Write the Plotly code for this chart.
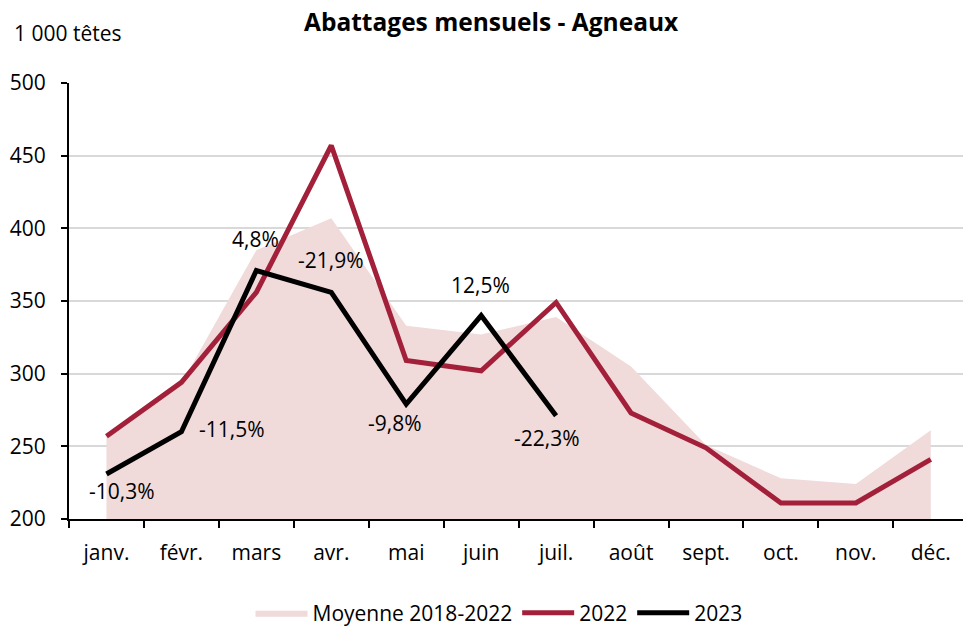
import plotly.graph_objects as go

months = ["janv.", "févr.", "mars", "avr.", "mai", "juin", "juil.", "août", "sept.", "oct.", "nov.", "déc."]
moyenne = [257, 293, 385, 407, 333, 327, 339, 305, 251, 228, 224, 261]
y2022 = [257, 294, 356, 457, 309, 302, 349, 273, 249, 211, 211, 241]
y2023 = [231, 260, 371, 356, 279, 340, 271]

labels = ["-10,3%", "-11,5%", "4,8%", "-21,9%", "-9,8%", "12,5%", "-22,3%"]
label_x = [0.21, 1.67, 1.99, 2.99, 3.85, 4.99, 5.88]
label_y = [219, 262, 393, 378, 266, 361, 256]

FONT = "Open Sans"
FS = 21
RED = "#A3203A"
FILL = "#F0DADA"

fig = go.Figure()
fig.add_trace(go.Scatter(x=months, y=moyenne, mode="lines", fill="tozeroy",
                         fillcolor=FILL, line=dict(width=0, color=FILL),
                         name="Moyenne 2018-2022"))
fig.add_trace(go.Scatter(x=months, y=y2022, mode="lines",
                         line=dict(color=RED, width=5), name="2022"))
fig.add_trace(go.Scatter(x=months[:len(y2023)], y=y2023, mode="lines",
                         line=dict(color="black", width=5), name="2023"))

for t, x, y in zip(labels, label_x, label_y):
    fig.add_annotation(x=x, y=y, text=t, showarrow=False, xref="x", yref="y",
                       font=dict(size=FS, color="black", family=FONT))

fig.add_annotation(x=-0.064, y=1.1147, xref="paper", yref="paper", text="1 000 têtes",
                   showarrow=False, xanchor="left", yanchor="middle",
                   font=dict(size=FS, color="black", family=FONT))

fig.update_layout(
    width=963, height=629,
    margin=dict(l=69, r=0, t=83, b=110, autoexpand=False),
    paper_bgcolor="white", plot_bgcolor="white",
    font=dict(family=FONT, size=FS, color="black"),
    title=dict(text="<b>Abattages mensuels - Agneaux</b>", x=0.51, xref="container",
               y=1 - 22 / 629, yref="container", xanchor="center", yanchor="middle",
               font=dict(size=24.5, family=FONT, color="black")),
    showlegend=True,
    legend=dict(orientation="h", xref="paper", yref="paper", x=0.481, y=-0.2156,
                xanchor="center", yanchor="middle", font=dict(size=FS, family=FONT),
                itemwidth=52, traceorder="normal"),
)
fig.update_xaxes(
    type="category", range=[-0.5, 11.43], categoryorder="array", categoryarray=months,
    showline=True, linecolor="black", linewidth=2, ticks="outside", tickson="boundaries",
    ticklen=7, tickcolor="black", tickwidth=2, showgrid=False, zeroline=False,
    ticklabelstandoff=14,
)
fig.update_yaxes(
    range=[200, 500], tickvals=[200, 250, 300, 350, 400, 450, 500],
    showline=True, linecolor="black", linewidth=2, ticks="outside", ticklen=6,
    tickcolor="black", tickwidth=2, showgrid=True, gridcolor="#D9D9D9", gridwidth=2,
    zeroline=False, ticklabelstandoff=11,
)

fig.write_html("out.html", config={"displayModeBar": False},
               post_script="document.body.style.margin='0';")
